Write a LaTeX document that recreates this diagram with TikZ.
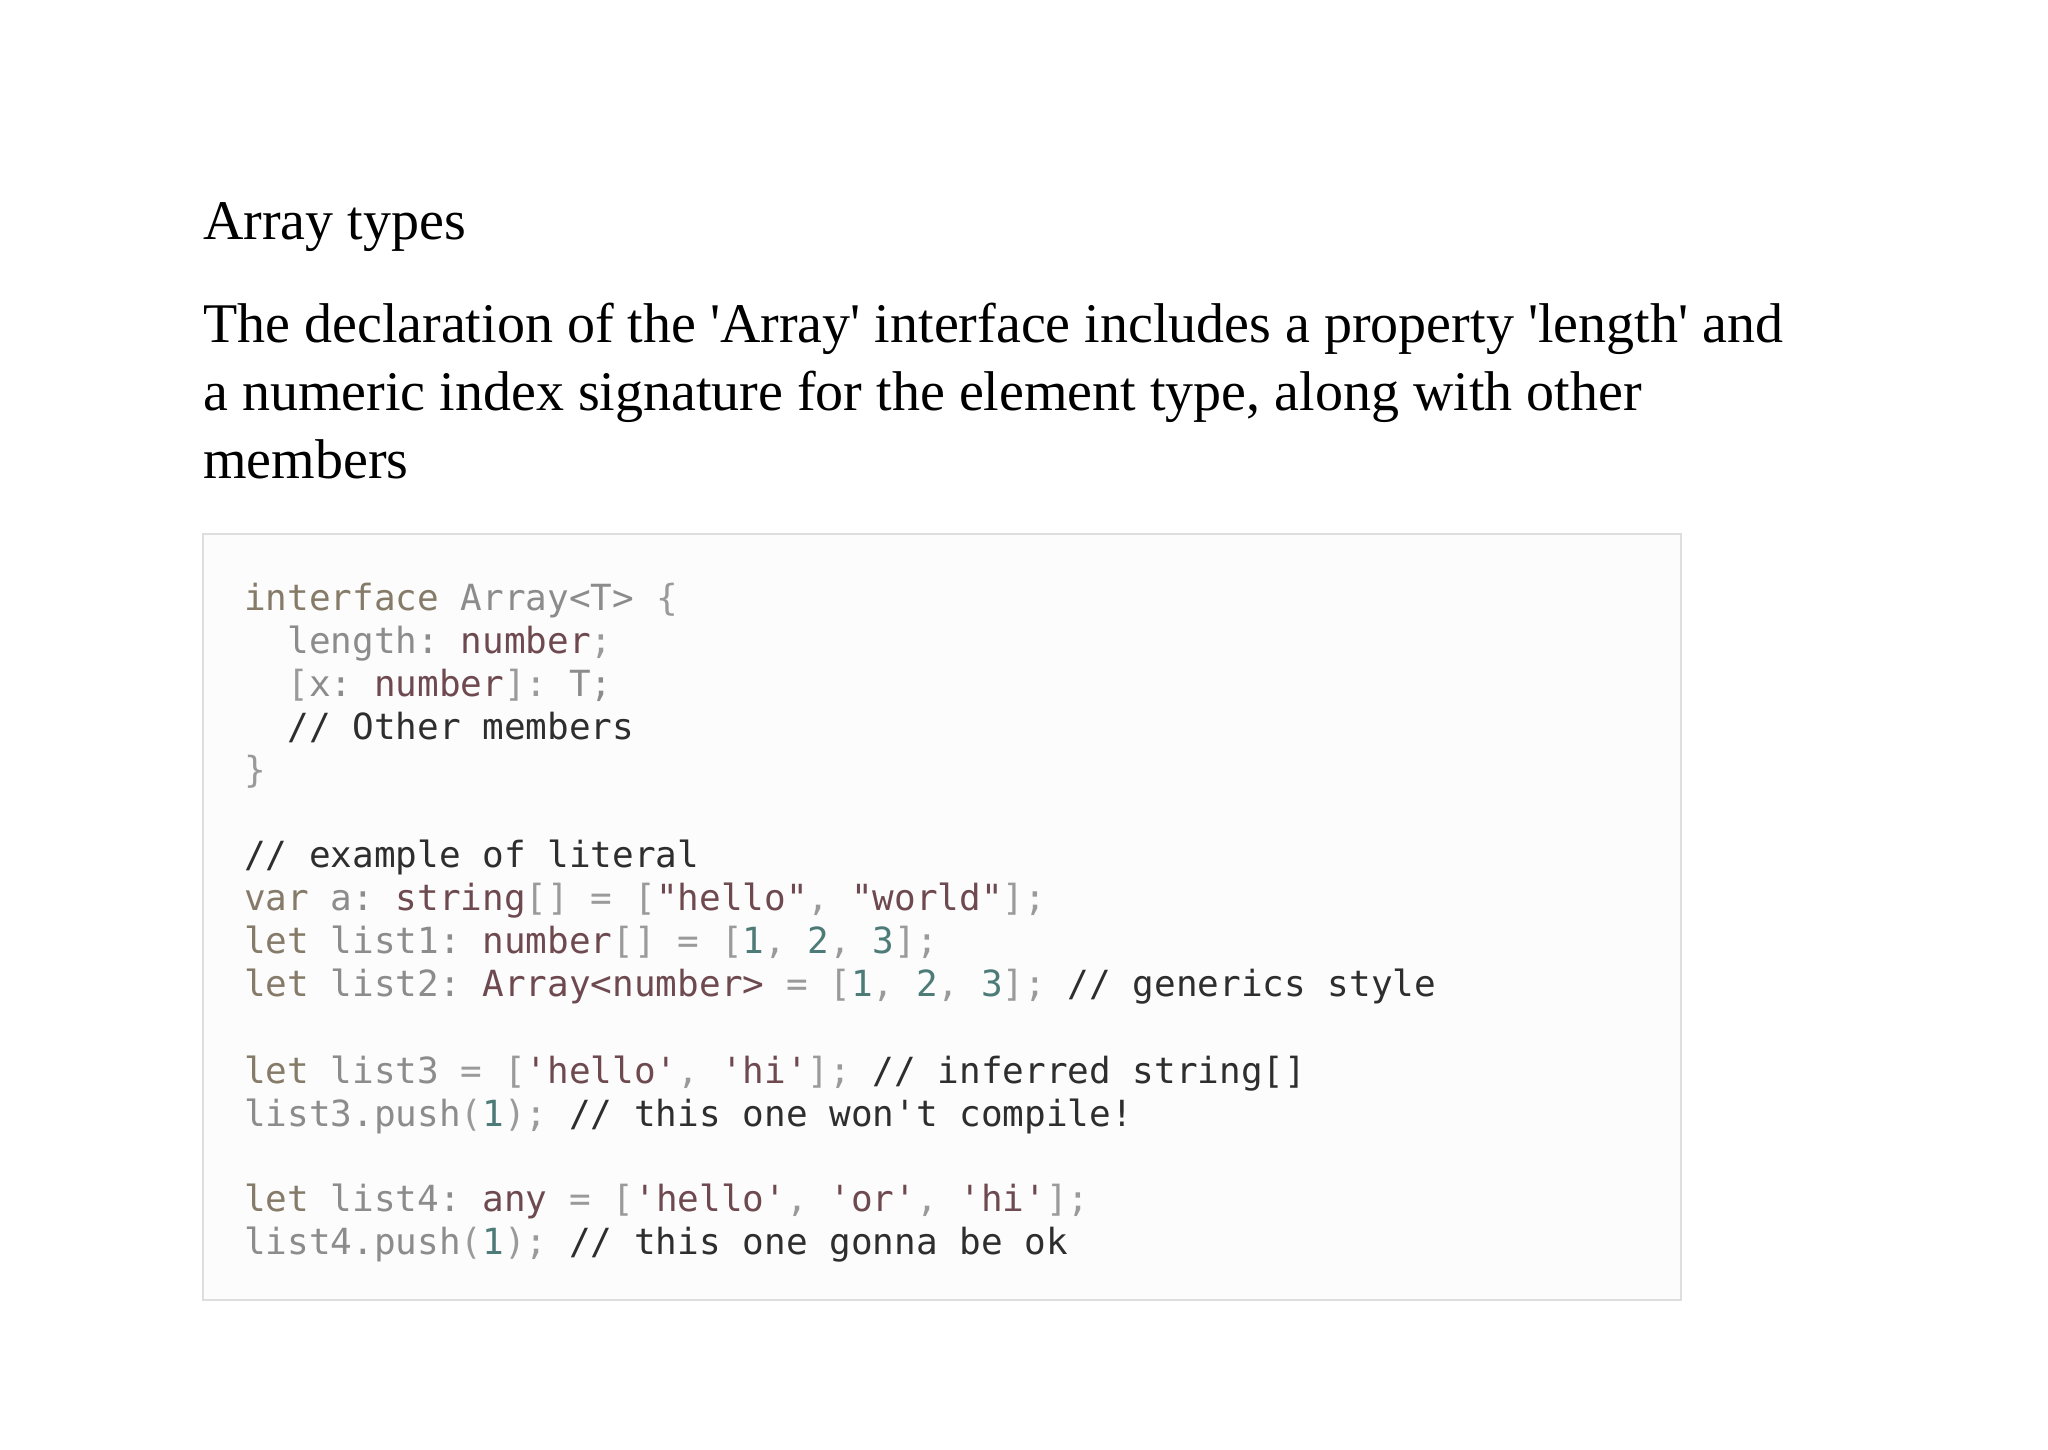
\documentclass[tikz,border=0pt]{standalone}
\usepackage{fontspec}
\setmainfont{Liberation Serif}
\setmonofont{DejaVu Sans Mono}
\definecolor{ckw}{HTML}{857B68}
\definecolor{cid}{HTML}{8C8C8C}
\definecolor{cty}{HTML}{6E4A50}
\definecolor{cnm}{HTML}{4C7B78}
\definecolor{ccm}{HTML}{2E2E2E}
\definecolor{cpu}{HTML}{9A9A9A}
\newcommand\Ckw[1]{\textcolor{ckw}{#1}}
\newcommand\Cid[1]{\textcolor{cid}{#1}}
\newcommand\Cty[1]{\textcolor{cty}{#1}}
\newcommand\Cnm[1]{\textcolor{cnm}{#1}}
\newcommand\Ccm[1]{\textcolor{ccm}{#1}}
\newcommand\Cpu[1]{\textcolor{cpu}{#1}}
\newcommand\q{\textquotesingle}
\begin{document}
\begin{tikzpicture}[x=1pt,y=-1pt,
  code/.style={anchor=base west,inner sep=0pt,font=\fontsize{36}{40}\ttfamily},
  txt/.style={anchor=base west,inner sep=0pt,text=black}]
\useasboundingbox[fill=white] (0,0) rectangle (2048,1449);
\node[txt,font=\fontsize{56}{60}\selectfont] (title) at (203,239) {Array types};
\node[txt,font=\fontsize{56}{68}\selectfont] (p1) at (203,342) {The declaration of the \q Array\q{} interface includes a property \q length\q{} and};
\node[txt,font=\fontsize{56}{68}\selectfont] (p2) at (203,410) {a numeric index signature for the element type, along with other};
\node[txt,font=\fontsize{56}{68}\selectfont] (p3) at (203,478) {members};
\draw[draw=black!13,fill=black!1,line width=1.5pt] (203,534) rectangle (1681,1300);
\node[code] (l1) at (244,610) {\Ckw{interface} \Cid{Array<T>} \Cpu{\{}};
\node[code] (l2) at (244,653) {\ \ \Cid{length:} \Cty{number}\Cpu{;}};
\node[code] (l3) at (244,696) {\ \ \Cpu{[}\Cid{x:} \Cty{number}\Cpu{]:} \Cid{T;}};
\node[code] (l4) at (244,739) {\ \ \Ccm{// Other members}};
\node[code] (l5) at (244,782) {\Cpu{\}}};
\node[code] (l6) at (244,867) {\Ccm{// example of literal}};
\node[code] (l7) at (244,910) {\Ckw{var} \Cid{a:} \Cty{string}\Cpu{[] = [}\Cty{"hello"}\Cpu{,} \Cty{"world"}\Cpu{];}};
\node[code] (l8) at (244,953) {\Ckw{let} \Cid{list1:} \Cty{number}\Cpu{[] = [}\Cnm{1}\Cpu{,} \Cnm{2}\Cpu{,} \Cnm{3}\Cpu{];}};
\node[code] (l9) at (244,996) {\Ckw{let} \Cid{list2:} \Cty{Array<number>} \Cpu{= [}\Cnm{1}\Cpu{,} \Cnm{2}\Cpu{,} \Cnm{3}\Cpu{];} \Ccm{// generics style}};
\node[code] (l10) at (244,1083) {\Ckw{let} \Cid{list3} \Cpu{= [}\Cty{'hello'}\Cpu{,} \Cty{'hi'}\Cpu{];} \Ccm{// inferred string[]}};
\node[code] (l11) at (244,1126) {\Cid{list3.push}\Cpu{(}\Cnm{1}\Cpu{);} \Ccm{// this one won't compile!}};
\node[code] (l12) at (244,1211) {\Ckw{let} \Cid{list4:} \Cty{any} \Cpu{= [}\Cty{'hello'}\Cpu{,} \Cty{'or'}\Cpu{,} \Cty{'hi'}\Cpu{];}};
\node[code] (l13) at (244,1254) {\Cid{list4.push}\Cpu{(}\Cnm{1}\Cpu{);} \Ccm{// this one gonna be ok}};
\end{tikzpicture}
\end{document}
